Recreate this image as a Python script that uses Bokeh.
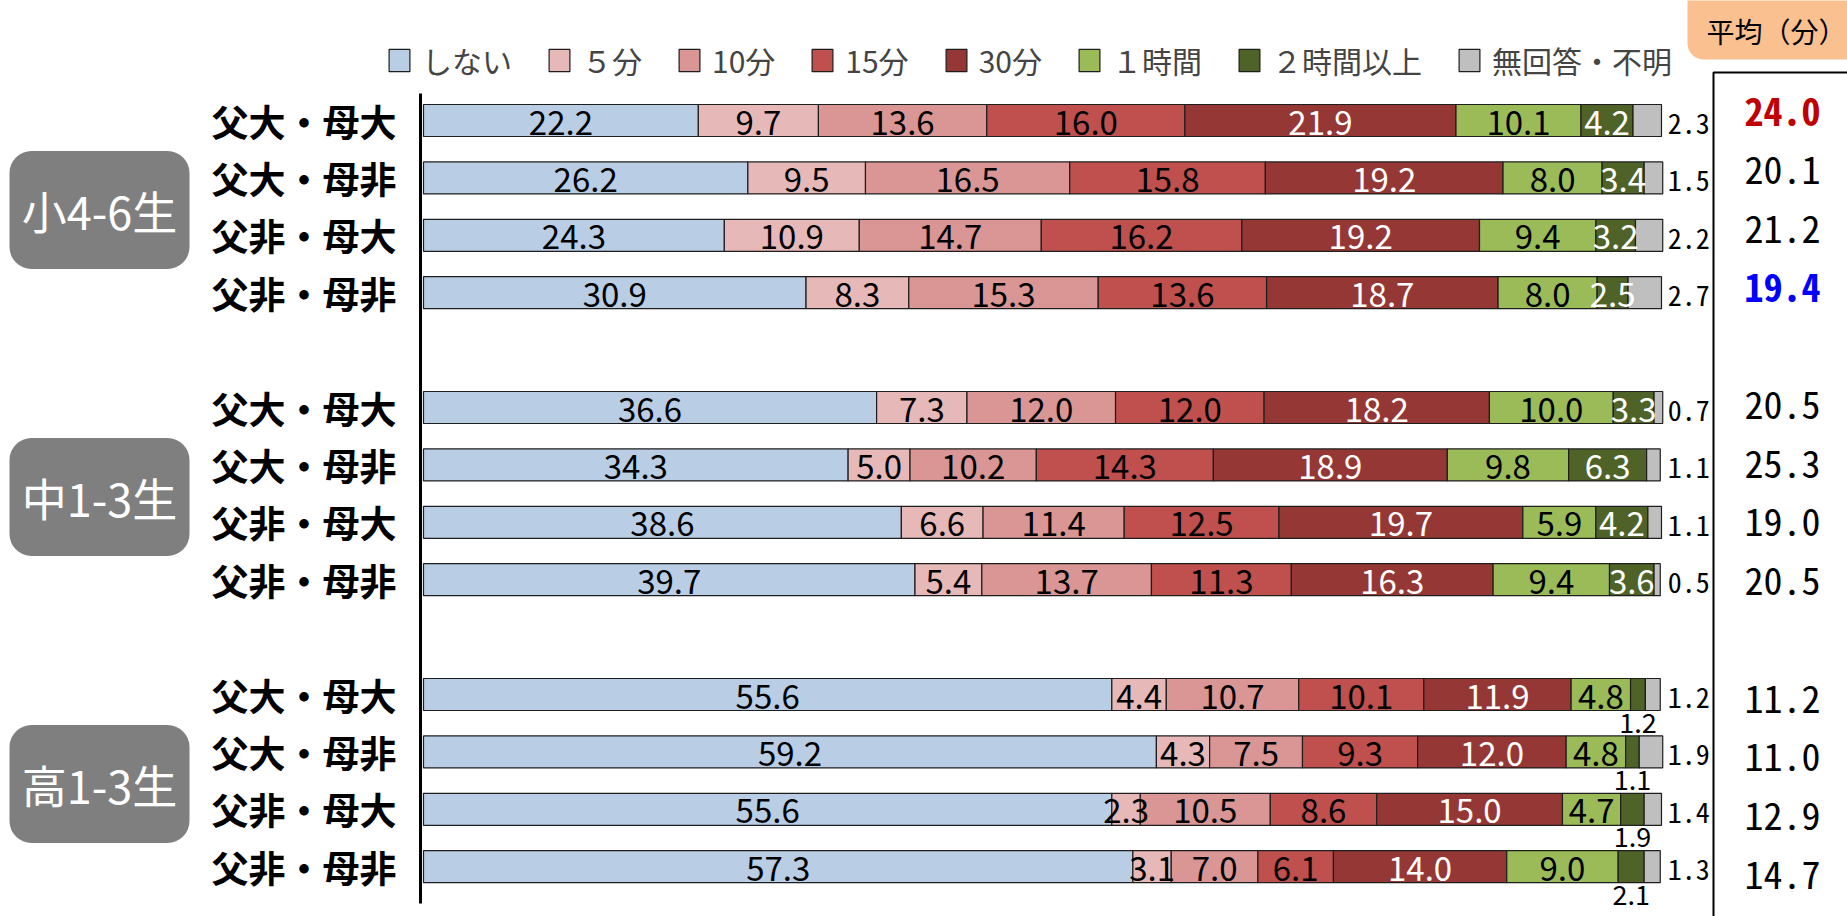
from bokeh.plotting import figure
from bokeh.models import ColumnDataSource, Range1d
from bokeh.core.properties import value
from bokeh.embed import file_html
from bokeh.resources import INLINE

# ---------------- data ----------------
categories = ["しない", "５分", "10分", "15分", "30分", "１時間", "２時間以上", "無回答・不明"]
groups = ["小4-6生", "中1-3生", "高1-3生"]
rows = ["父大・母大", "父大・母非", "父非・母大", "父非・母非"]

shinai = [22.2, 26.2, 24.3, 30.9, 36.6, 34.3, 38.6, 39.7, 55.6, 59.2, 55.6, 57.3]
min5   = [9.7, 9.5, 10.9, 8.3, 7.3, 5.0, 6.6, 5.4, 4.4, 4.3, 2.3, 3.1]
min10  = [13.6, 16.5, 14.7, 15.3, 12.0, 10.2, 11.4, 13.7, 10.7, 7.5, 10.5, 7.0]
min15  = [16.0, 15.8, 16.2, 13.6, 12.0, 14.3, 12.5, 11.3, 10.1, 9.3, 8.6, 6.1]
min30  = [21.9, 19.2, 19.2, 18.7, 18.2, 18.9, 19.7, 16.3, 11.9, 12.0, 15.0, 14.0]
hour1  = [10.1, 8.0, 9.4, 8.0, 10.0, 9.8, 5.9, 9.4, 4.8, 4.8, 4.7, 9.0]
hour2  = [4.2, 3.4, 3.2, 2.5, 3.3, 6.3, 4.2, 3.6, 1.2, 1.1, 1.9, 2.1]
noans  = [2.3, 1.5, 2.2, 2.7, 0.7, 1.1, 1.1, 0.5, 1.2, 1.9, 1.4, 1.3]
averages = [24.0, 20.1, 21.2, 19.4, 20.5, 25.3, 19.0, 20.5, 11.2, 11.0, 12.9, 14.7]

series = [shinai, min5, min10, min15, min30, hour1, hour2, noans]

# ---------------- styles ----------------
colors = ["#B9CDE5", "#E6B9B8", "#D99694", "#C0504D", "#953735", "#9BBB59", "#4F6228", "#BFBFBF"]
label_colors = ["black", "black", "black", "black", "white", "black", "white"]
avg_colors = ["#C00000", "black", "black", "#0000FF"] + ["black"] * 8
avg_styles = ["bold", "normal", "normal", "bold"] + ["normal"] * 8

JP = "Noto Sans CJK JP"
MONO = "'Noto Sans Mono CJK JP', 'DejaVu Sans Mono', monospace"

W, H = 1847, 916
SC = 12.38          # px per percent
XZ = 423            # page px of 0 %
ROW = 57.4          # px per row slot
YZ = 120            # page px of slot 0
BAR_H = 32 / ROW
AVG_ROW, AVG_Y0 = 58.7, 111


def dx(px):  # page px -> data x
    return (px - XZ) / SC


def dy(py):  # page px -> data y (slot units)
    return (py - YZ) / ROW


p = figure(width=W, height=H, output_backend="svg", toolbar_location=None,
           x_range=Range1d(dx(0), dx(W)), y_range=Range1d(dy(H), dy(0)),
           x_axis_type=None, y_axis_type=None, min_border=0)
p.outline_line_color = None
p.background_fill_color = "white"
p.border_fill_color = "white"
p.extra_y_ranges = {"avg": Range1d((H - AVG_Y0) / AVG_ROW, -AVG_Y0 / AVG_ROW)}

slots = [g * 5 + r for g in range(len(groups)) for r in range(len(rows))]
keys = [f"c{i}" for i in range(len(categories))]
data = {"y": slots}
for k, s in zip(keys, series):
    data[k] = s
src = ColumnDataSource(data)

p.hbar_stack(keys, y="y", height=BAR_H, fill_color=colors, line_color="#1E1E1E",
             line_width=1.2, source=src, legend_label=categories)

# in-bar labels
ix, iy, it, ic = [], [], [], []
bx, by, bt = [], [], []
for j, sl in enumerate(slots):
    cum = 0.0
    for i in range(7):
        v = series[i][j]
        c = cum + v / 2
        if i == 6 and v < 2.4:
            bx.append(c); by.append(sl + 0.49); bt.append(f"{v:.1f}")
        else:
            ix.append(c); iy.append(sl); it.append(f"{v:.1f}"); ic.append(label_colors[i])
        cum += v
p.text(x="x", y="y", text="t", text_color="c",
       source=ColumnDataSource(dict(x=ix, y=iy, t=it, c=ic)),
       text_font=value(JP), text_font_size="33px", text_align="center",
       text_baseline="middle", y_offset=2)
p.text(x="x", y="y", text="t", source=ColumnDataSource(dict(x=bx, y=by, t=bt)),
       text_font=value(JP), text_font_size="27px", text_align="center",
       text_baseline="middle", text_color="black")

# no-answer labels right of bar
p.text(x=[100.5] * len(slots), y=slots, text=[f"{v:.1f}" for v in noans],
       text_font=value(MONO), text_font_size="28px", text_align="left",
       text_baseline="middle", text_color="black", y_offset=3)

# row labels
p.text(x=[dx(396)] * len(slots), y=slots, text=rows * len(groups),
       text_font=value(JP), text_font_size="37px", text_font_style="bold",
       text_align="right", text_baseline="middle", text_color="black")

# axis line
p.segment(x0=[dx(420)], y0=[dy(93)], x1=[dx(420)], y1=[dy(903)],
          line_color="black", line_width=3)

# group badges
gy = [sum(slots[g * 4:(g + 1) * 4]) / 4 + 0.06 for g in range(len(groups))]
half = 59 / ROW
p.quad(left=[dx(9)] * 3, right=[dx(189)] * 3, top=[y - half for y in gy],
       bottom=[y + half for y in gy], fill_color="#7F7F7F", line_color=None,
       border_radius=22)
p.text(x=[dx(99)] * 3, y=gy, text=groups, text_font=value(JP),
       text_font_size="45px", text_color="white", text_align="center",
       text_baseline="middle")

# average panel
p.quad(left=[dx(1687)], right=[dx(1900)], top=[dy(-40)], bottom=[dy(59)],
       fill_color="#FAC090", line_color=None, border_radius=16)
p.text(x=[dx(1776)], y=[dy(30)], text=["平均（分）"], text_font=value(JP),
       text_font_size="28px", text_align="center", text_baseline="middle",
       text_color="black")
p.quad(left=[dx(1713)], right=[dx(1900)], top=[dy(72)], bottom=[dy(1000)],
       fill_color=None, line_color="black", line_width=2)
p.text(x=[dx(1782)] * len(slots), y=slots, y_range_name="avg",
       text=[f"{v:.1f}" for v in averages], text_color=avg_colors,
       text_font_style=avg_styles, text_font=value(MONO), text_font_size="38px",
       text_align="center", text_baseline="middle")

# legend
lg = p.legend[0]
lg.orientation = "horizontal"
lg.location = (386, 834)
lg.border_line_color = None
lg.background_fill_alpha = 0
lg.label_text_font = JP
lg.label_text_font_size = "30px"
lg.glyph_width = 26
lg.glyph_height = 28
lg.label_standoff = 10
lg.spacing = 34
lg.padding = 0
lg.margin = 0

open("out.html", "w").write(file_html(p, INLINE))
